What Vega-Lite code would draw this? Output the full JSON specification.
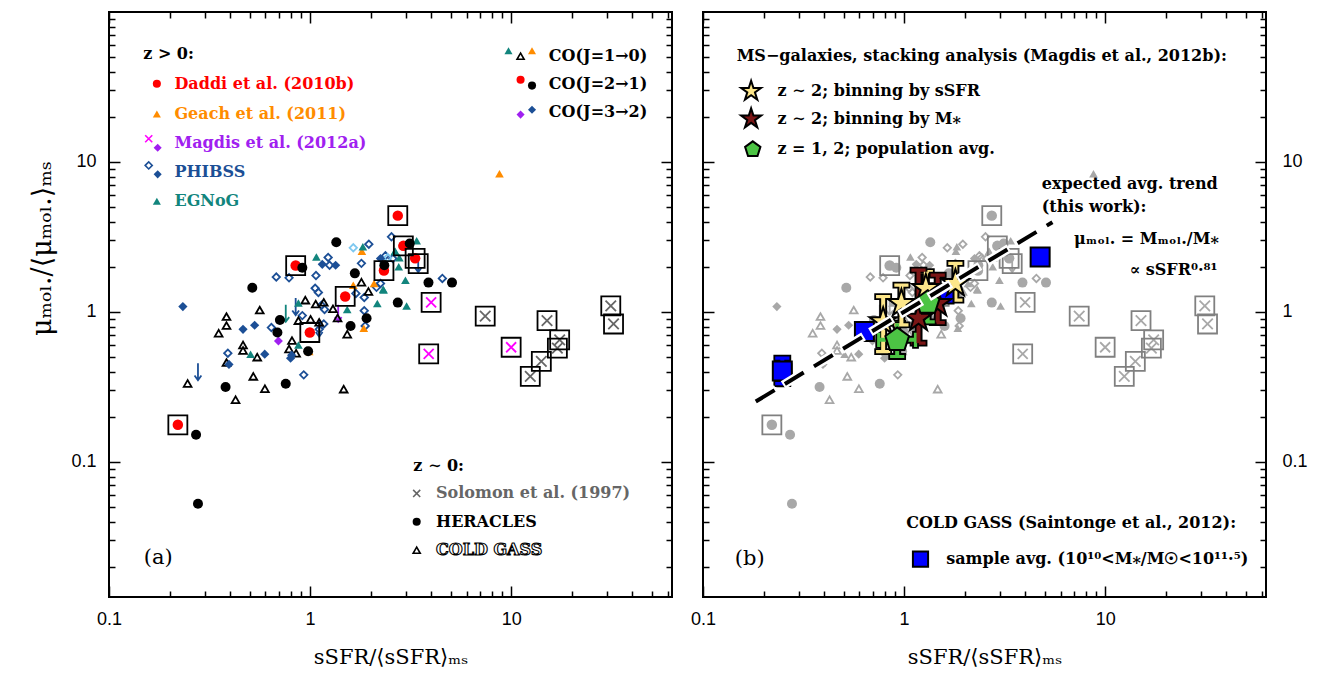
{
"$schema":"https://vega.github.io/schema/vega-lite/v6.json",
"padding":{"left":27,"top":8,"right":5,"bottom":5},
"background":"white",
"config":{"view":{"stroke":"#000","strokeWidth":2},"axis":{"grid":false,"domain":false}},
"datasets":{
"obs":[
{"s":"Daddi","x":0.22,"y":0.177,"b":1},{"s":"Daddi","x":0.848,"y":2.04,"b":1},{"s":"Daddi","x":0.997,"y":0.73,"b":1},{"s":"Daddi","x":1.495,"y":1.27,"b":1},{"s":"Daddi","x":2.33,"y":1.89,"b":1},{"s":"Daddi","x":2.73,"y":4.39,"b":1},{"s":"Daddi","x":2.91,"y":2.76,"b":1},{"s":"Daddi","x":3.33,"y":2.28,"b":1},
{"s":"Geach","x":8.75,"y":8.36},{"s":"Geach","x":1.81,"y":2.54},{"s":"Geach","x":0.99,"y":0.545},{"s":"Geach","x":1.64,"y":1.51},{"s":"Geach","x":1.85,"y":0.78},{"s":"Geach","x":2.08,"y":1.55},
{"s":"MagdisX","x":4.0,"y":1.16,"b":1},{"s":"MagdisX","x":3.89,"y":0.526,"b":1},{"s":"MagdisX","x":10.0,"y":0.582,"b":1},
{"s":"MagdisD","x":0.696,"y":0.641},
{"s":"MagdisL","x":1.38,"y":0.98},
{"s":"PHIBSSo","x":0.679,"y":1.71},{"s":"PHIBSSo","x":0.786,"y":1.69},{"s":"PHIBSSo","x":1.23,"y":2.31},{"s":"PHIBSSo","x":1.25,"y":2.05},{"s":"PHIBSSo","x":1.07,"y":1.75},{"s":"PHIBSSo","x":1.06,"y":1.44},{"s":"PHIBSSo","x":1.10,"y":1.35},{"s":"PHIBSSo","x":1.14,"y":1.11},{"s":"PHIBSSo","x":1.18,"y":1.04},{"s":"PHIBSSo","x":1.17,"y":0.832},{"s":"PHIBSSo","x":1.11,"y":0.767},{"s":"PHIBSSo","x":0.915,"y":0.946},{"s":"PHIBSSo","x":0.642,"y":0.788},{"s":"PHIBSSo","x":0.39,"y":0.531},{"s":"PHIBSSo","x":0.93,"y":0.381},{"s":"PHIBSSo","x":1.80,"y":2.11},{"s":"PHIBSSo","x":1.96,"y":2.83},{"s":"PHIBSSo","x":1.86,"y":1.25},{"s":"PHIBSSo","x":1.86,"y":1.02},{"s":"PHIBSSo","x":1.88,"y":0.807},{"s":"PHIBSSo","x":1.69,"y":1.33},{"s":"PHIBSSo","x":2.14,"y":1.46},{"s":"PHIBSSo","x":2.24,"y":1.55},{"s":"PHIBSSo","x":2.54,"y":3.17},{"s":"PHIBSSo","x":2.37,"y":2.37},{"s":"PHIBSSo","x":2.58,"y":2.27},{"s":"PHIBSSo","x":4.55,"y":1.675},
{"s":"PHIBSSl","x":1.64,"y":2.68},{"s":"PHIBSSl","x":2.43,"y":2.30},
{"s":"PHIBSSf","x":0.233,"y":1.086},{"s":"PHIBSSf","x":0.464,"y":0.767},{"s":"PHIBSSf","x":0.53,"y":0.816},{"s":"PHIBSSf","x":0.395,"y":0.447},{"s":"PHIBSSf","x":0.595,"y":0.523},{"s":"PHIBSSf","x":0.80,"y":0.492},{"s":"PHIBSSf","x":0.81,"y":0.515},{"s":"PHIBSSf","x":1.15,"y":2.08},{"s":"PHIBSSf","x":1.34,"y":2.05},{"s":"PHIBSSf","x":2.24,"y":2.27},
{"s":"PHIBSSL","x":0.277,"y":0.40},{"s":"PHIBSSL","x":0.848,"y":1.086},{"s":"PHIBSSL","x":1.11,"y":0.78},{"s":"PHIBSSL","x":3.45,"y":2.1,"b":1},
{"s":"EGNoG","x":1.075,"y":2.33},{"s":"EGNoG","x":1.83,"y":2.72},{"s":"EGNoG","x":0.506,"y":0.523},{"s":"EGNoG","x":0.875,"y":0.603},{"s":"EGNoG","x":0.875,"y":1.15},{"s":"EGNoG","x":1.53,"y":1.04},{"s":"EGNoG","x":2.16,"y":1.14},{"s":"EGNoG","x":2.31,"y":1.42},{"s":"EGNoG","x":2.65,"y":2.54},{"s":"EGNoG","x":2.76,"y":2.0},{"s":"EGNoG","x":3.39,"y":2.98},{"s":"EGNoG","x":2.64,"y":2.53},{"s":"EGNoG","x":2.78,"y":2.30},{"s":"EGNoG","x":2.98,"y":1.63},{"s":"EGNoG","x":2.32,"y":1.40},{"s":"EGNoG","x":3.02,"y":1.096},
{"s":"EGNoGL","x":0.757,"y":0.98},
{"s":"Solomon","x":7.43,"y":0.94,"b":1},{"s":"Solomon","x":15.08,"y":0.876,"b":1},{"s":"Solomon","x":17.43,"y":0.652,"b":1},{"s":"Solomon","x":16.98,"y":0.574,"b":1},{"s":"Solomon","x":14.13,"y":0.468,"b":1},{"s":"Solomon","x":12.45,"y":0.372,"b":1},{"s":"Solomon","x":31.3,"y":1.10,"b":1},{"s":"Solomon","x":32.3,"y":0.832,"b":1},
{"s":"HERACLES","x":1.35,"y":2.92},{"s":"HERACLES","x":0.915,"y":1.97},{"s":"HERACLES","x":0.516,"y":1.45},{"s":"HERACLES","x":0.708,"y":0.885},{"s":"HERACLES","x":0.688,"y":0.73},{"s":"HERACLES","x":0.38,"y":0.316},{"s":"HERACLES","x":0.757,"y":0.332},{"s":"HERACLES","x":0.271,"y":0.152},{"s":"HERACLES","x":1.67,"y":1.81},{"s":"HERACLES","x":1.59,"y":0.807},{"s":"HERACLES","x":1.91,"y":0.908},{"s":"HERACLES","x":2.73,"y":1.155},{"s":"HERACLES","x":0.978,"y":0.548},{"s":"HERACLES","x":2.34,"y":2.05},{"s":"HERACLES","x":3.13,"y":2.86},{"s":"HERACLES","x":3.88,"y":1.57},{"s":"HERACLES","x":5.08,"y":1.57},{"s":"HERACLES","x":0.277,"y":0.0527},
{"s":"COLDGASS","x":0.384,"y":0.932},{"s":"COLDGASS","x":0.384,"y":0.812},{"s":"COLDGASS","x":0.351,"y":0.722},{"s":"COLDGASS","x":0.562,"y":1.03},{"s":"COLDGASS","x":0.464,"y":0.603},{"s":"COLDGASS","x":0.464,"y":0.554},{"s":"COLDGASS","x":0.546,"y":0.50},{"s":"COLDGASS","x":0.384,"y":0.46},{"s":"COLDGASS","x":0.246,"y":0.334},{"s":"COLDGASS","x":0.426,"y":0.26},{"s":"COLDGASS","x":0.522,"y":0.372},{"s":"COLDGASS","x":0.596,"y":0.308},{"s":"COLDGASS","x":0.813,"y":0.645},{"s":"COLDGASS","x":0.786,"y":0.567},{"s":"COLDGASS","x":0.852,"y":0.531},{"s":"COLDGASS","x":0.947,"y":1.20},{"s":"COLDGASS","x":0.875,"y":0.876},{"s":"COLDGASS","x":1.006,"y":0.894},{"s":"COLDGASS","x":1.11,"y":0.854},{"s":"COLDGASS","x":1.067,"y":1.13},{"s":"COLDGASS","x":1.17,"y":1.16},{"s":"COLDGASS","x":1.30,"y":1.05},{"s":"COLDGASS","x":1.37,"y":0.912},{"s":"COLDGASS","x":1.47,"y":0.306},{"s":"COLDGASS","x":1.53,"y":0.711},{"s":"COLDGASS","x":1.80,"y":1.58},{"s":"COLDGASS","x":1.95,"y":1.37}
],
"lsym":[
{"s":"Daddi","x":0.173,"y":33.2},{"s":"Geach","x":0.173,"y":20.9},{"s":"MagdisX","x":0.1576,"y":14.29},{"s":"MagdisD","x":0.1746,"y":12.45},{"s":"PHIBSSo","x":0.1576,"y":9.49},{"s":"PHIBSSf","x":0.1746,"y":8.27},{"s":"EGNoG","x":0.173,"y":5.47},
{"s":"EGNoG","x":9.70,"y":55.2},{"s":"COLDGASS","x":11.14,"y":50.7},{"s":"Geach","x":12.7,"y":55.2},{"s":"Daddi","x":11.14,"y":35.3},{"s":"HERACLES","x":12.7,"y":32.3},{"s":"MagdisD","x":11.14,"y":20.7},{"s":"PHIBSSf","x":12.7,"y":22.3},
{"s":"Solomon","x":3.39,"y":0.0617},{"s":"HERACLES","x":3.39,"y":0.040},{"s":"COLDGASS","x":3.39,"y":0.0258}
],
"ltxt":[
{"s":"plain","x":0.148,"y":52.5,"t":"z > 0:"},
{"s":"Daddi","x":0.2116,"y":33.2,"t":"Daddi et al. (2010b)"},
{"s":"Geach","x":0.2116,"y":20.9,"t":"Geach et al. (2011)"},
{"s":"Magdis","x":0.2116,"y":13.37,"t":"Magdis et al. (2012a)"},
{"s":"PHIBSS","x":0.2116,"y":8.58,"t":"PHIBSS"},
{"s":"EGNoG","x":0.2116,"y":5.47,"t":"EGNoG"},
{"s":"plain","x":15.4,"y":51.2,"t":"CO(J=1→0)"},
{"s":"plain","x":15.4,"y":33.2,"t":"CO(J=2→1)"},
{"s":"plain","x":15.4,"y":21.5,"t":"CO(J=3→2)"},
{"s":"plain","x":3.26,"y":0.0938,"t":"z ∼ 0:"},
{"s":"Solomon","x":4.23,"y":0.0617,"t":"Solomon et al. (1997)"},
{"s":"plain","x":4.23,"y":0.040,"t":"HERACLES"},
{"s":"outline","x":4.23,"y":0.0258,"t":"COLD GASS"},
{"s":"panel","x":0.1488,"y":0.023,"t":"(a)"}
],
"stk":[
{"s":"Bsq","x":0.248,"y":0.405,"ylo":0.333,"yhi":0.492},
{"s":"Bsq","x":0.635,"y":0.741,"ylo":0.70,"yhi":0.78},
{"s":"Bsq","x":1.58,"y":1.32,"ylo":1.26,"yhi":1.38},
{"s":"Bsq","x":4.75,"y":2.33,"ylo":2.25,"yhi":2.42},
{"s":"Ystar","x":0.787,"y":0.863,"ylo":0.545,"yhi":1.266},
{"s":"Ystar","x":0.97,"y":1.142,"ylo":0.82,"yhi":1.51},
{"s":"Ystar","x":1.283,"y":1.437,"ylo":1.14,"yhi":1.856},
{"s":"Ystar","x":1.80,"y":1.55,"ylo":1.2,"yhi":2.11},
{"s":"Rstar","x":1.18,"y":0.908,"ylo":0.62,"yhi":1.90},
{"s":"Rstar","x":1.47,"y":1.14,"ylo":0.85,"yhi":1.76},
{"s":"Gpent","x":0.924,"y":0.652,"ylo":0.505,"yhi":0.841,"xlo":0.748,"xhi":1.14},
{"s":"Gpent","x":1.31,"y":1.155,"ylo":0.86,"yhi":1.5,"xlo":1.2,"xhi":1.45}
],
"rsym":[
{"s":"Ystar","x":0.1735,"y":29.65},{"s":"Rstar","x":0.1735,"y":19.4},{"s":"Gpent","x":0.1768,"y":12.13},{"s":"Bsq","x":1.207,"y":0.0225}
],
"trend":[{"x":0.183,"y":0.253},{"x":5.47,"y":3.97}],
"rtxt":[
{"s":"plain","x":0.147,"y":51.2,"t":"MS−galaxies, stacking analysis (Magdis et al., 2012b):"},
{"s":"plain","x":0.2346,"y":29.65,"t":"z ∼ 2; binning by sSFR"},
{"s":"plain","x":0.2346,"y":19.4,"t":"z ∼ 2; binning by M⁎"},
{"s":"plain","x":0.2346,"y":12.13,"t":"z = 1, 2; population avg."},
{"s":"plain","x":4.84,"y":7.17,"t":"expected avg. trend"},
{"s":"plain","x":4.84,"y":5.02,"t":"(this work):"},
{"s":"plain","x":7.01,"y":3.09,"t":"μₘₒₗ. = Mₘₒₗ./M⁎"},
{"s":"plain","x":13.2,"y":1.90,"t":"∝ sSFR⁰·⁸¹"},
{"s":"plain","x":1.024,"y":0.0394,"t":"COLD GASS (Saintonge et al., 2012):"},
{"s":"plain","x":1.62,"y":0.0225,"t":"sample avg. (10¹⁰<M⁎/M☉<10¹¹·⁵)"},
{"s":"panel","x":0.144,"y":0.0225,"t":"(b)"}
]
},
"hconcat":[
{
"width":563,"height":585,
"encoding":{
"x":{"field":"x","type":"quantitative","scale":{"type":"log","domain":[0.1,63.0957],"nice":false},"axis":null},
"y":{"field":"y","type":"quantitative","scale":{"type":"log","domain":[0.012589,100],"nice":false},"axis":null}
},
"layer":[
{"data":{"name":"obs"},"transform":[{"filter":{"field":"s","oneOf":["MagdisX","PHIBSSo","PHIBSSl","COLDGASS","Solomon","MagdisL","PHIBSSL","EGNoGL"]}}],
"mark":{"type":"point","filled":false,"strokeWidth":1.8,"opacity":1},
"encoding":{
"x":{"field":"x","type":"quantitative","scale":{"type":"log","domain":[0.1,63.0957],"nice":false},
"axis":{"orient":"bottom","values":[0.1,0.2,0.3,0.4,0.5,0.6,0.7,0.8,0.9,1,2,3,4,5,6,7,8,9,10,20,30,40,50,60],"labelExpr":"datum.value==0.1?'0.1':datum.value==1?'1':datum.value==10?'10':''","tickSize":{"condition":{"test":"datum.value==0.1||datum.value==1||datum.value==10","value":-11},"value":-6},"tickColor":"#000","tickWidth":1.5,"labelPadding":24,"labelFont":"Liberation Sans","labelFontSize":18,"labelColor":"#000","labelFlush":false,"labelOverlap":false,"title":"sSFR/⟨sSFR⟩ₘₛ","titleFont":"DejaVu Serif","titleFontSize":21,"titleFontWeight":"normal","titleColor":"#000","titlePadding":13}},
"y":{"field":"y","type":"quantitative","scale":{"type":"log","domain":[0.012589,100],"nice":false},
"axis":{"orient":"left","values":[0.02,0.03,0.04,0.05,0.06,0.07,0.08,0.09,0.1,0.2,0.3,0.4,0.5,0.6,0.7,0.8,0.9,1,2,3,4,5,6,7,8,9,10,20,30,40,50,60,70,80,90],"labelExpr":"datum.value==0.1?'0.1':datum.value==1?'1':datum.value==10?'10':''","tickSize":{"condition":{"test":"datum.value==0.1||datum.value==1||datum.value==10","value":-11},"value":-6},"tickColor":"#000","tickWidth":1.5,"labelPadding":24,"labelFont":"Liberation Sans","labelFontSize":18,"labelColor":"#000","labelFlush":false,"labelOverlap":false,"title":"μₘₒₗ./⟨μₘₒₗ.⟩ₘₛ","titleFont":"DejaVu Serif","titleFontSize":27,"titleFontWeight":"normal","titleColor":"#000","titlePadding":14,"titleY":236}},
"shape":{"field":"s","type":"nominal","legend":null,"scale":{"domain":["Daddi","Geach","MagdisX","MagdisD","MagdisL","PHIBSSo","PHIBSSl","PHIBSSf","PHIBSSL","EGNoG","EGNoGL","Solomon","HERACLES","COLDGASS"],"range":["circle","triangle-up","M-1,-1L1,1M-1,1L1,-1","diamond","M0,-1L0,1M-0.4,0.45L0,1L0.4,0.45","diamond","diamond","diamond","M0,-1L0,1M-0.4,0.45L0,1L0.4,0.45","triangle-up","M0,-1L0,1M-0.4,0.45L0,1L0.4,0.45","M-1,-1L1,1M-1,1L1,-1","circle","triangle-up"]}},
"color":{"field":"s","type":"nominal","legend":null,"scale":{"domain":["Daddi","Geach","MagdisX","MagdisD","MagdisL","PHIBSSo","PHIBSSl","PHIBSSf","PHIBSSL","EGNoG","EGNoGL","Solomon","HERACLES","COLDGASS","Magdis","PHIBSS","plain"],"range":["#ff0000","#ff8c00","#ff00ff","#a020f0","#a020f0","#1c4f96","#7ec8f0","#1c4f96","#1c4f96","#12857d","#12857d","#666666","#000000","#000000","#a020f0","#1c4f96","#000000"]}},
"size":{"field":"s","type":"nominal","legend":null,"scale":{"type":"ordinal","domain":["Daddi","Geach","MagdisX","MagdisD","MagdisL","PHIBSSo","PHIBSSl","PHIBSSf","PHIBSSL","EGNoG","EGNoGL","Solomon","HERACLES","COLDGASS"],"range":[110,75,100,80,290,55,55,85,290,75,290,110,100,60]}}
}},
{"data":{"name":"obs"},"transform":[{"filter":{"field":"s","oneOf":["Daddi","Geach","MagdisD","PHIBSSf","EGNoG","HERACLES"]}}],
"mark":{"type":"point","filled":true,"opacity":1},
"encoding":{
"x":{"field":"x","type":"quantitative","scale":{"type":"log","domain":[0.1,63.0957],"nice":false},
"axis":{"orient":"top","values":[0.1,0.2,0.3,0.4,0.5,0.6,0.7,0.8,0.9,1,2,3,4,5,6,7,8,9,10,20,30,40,50,60],"labels":false,"title":null,"tickSize":{"condition":{"test":"datum.value==0.1||datum.value==1||datum.value==10","value":-11},"value":-6},"tickColor":"#000","tickWidth":1.5}},
"y":{"field":"y","type":"quantitative","scale":{"type":"log","domain":[0.012589,100],"nice":false},
"axis":{"orient":"right","values":[0.02,0.03,0.04,0.05,0.06,0.07,0.08,0.09,0.1,0.2,0.3,0.4,0.5,0.6,0.7,0.8,0.9,1,2,3,4,5,6,7,8,9,10,20,30,40,50,60,70,80,90],"labels":false,"title":null,"tickSize":{"condition":{"test":"datum.value==0.1||datum.value==1||datum.value==10","value":-11},"value":-6},"tickColor":"#000","tickWidth":1.5}},
"shape":{"field":"s","type":"nominal","legend":null,"scale":{"domain":["Daddi","Geach","MagdisX","MagdisD","MagdisL","PHIBSSo","PHIBSSl","PHIBSSf","PHIBSSL","EGNoG","EGNoGL","Solomon","HERACLES","COLDGASS"],"range":["circle","triangle-up","M-1,-1L1,1M-1,1L1,-1","diamond","M0,-1L0,1M-0.4,0.45L0,1L0.4,0.45","diamond","diamond","diamond","M0,-1L0,1M-0.4,0.45L0,1L0.4,0.45","triangle-up","M0,-1L0,1M-0.4,0.45L0,1L0.4,0.45","M-1,-1L1,1M-1,1L1,-1","circle","triangle-up"]}},
"color":{"field":"s","type":"nominal","legend":null,"scale":{"domain":["Daddi","Geach","MagdisX","MagdisD","MagdisL","PHIBSSo","PHIBSSl","PHIBSSf","PHIBSSL","EGNoG","EGNoGL","Solomon","HERACLES","COLDGASS","Magdis","PHIBSS","plain"],"range":["#ff0000","#ff8c00","#ff00ff","#a020f0","#a020f0","#1c4f96","#7ec8f0","#1c4f96","#1c4f96","#12857d","#12857d","#666666","#000000","#000000","#a020f0","#1c4f96","#000000"]}},
"size":{"field":"s","type":"nominal","legend":null,"scale":{"type":"ordinal","domain":["Daddi","Geach","MagdisX","MagdisD","MagdisL","PHIBSSo","PHIBSSl","PHIBSSf","PHIBSSL","EGNoG","EGNoGL","Solomon","HERACLES","COLDGASS"],"range":[110,75,100,80,290,55,55,85,290,75,290,110,100,60]}}
}},
{"data":{"name":"obs"},"transform":[{"filter":"datum.b==1"}],
"mark":{"type":"point","shape":"square","filled":false,"color":"#000","size":361,"strokeWidth":1.8,"opacity":1}},
{"data":{"name":"lsym"},"transform":[{"filter":{"field":"s","oneOf":["MagdisX","PHIBSSo","COLDGASS","Solomon"]}}],
"mark":{"type":"point","filled":false,"strokeWidth":1.6,"opacity":1,"size":50},
"encoding":{
"shape":{"field":"s","type":"nominal","legend":null,"scale":{"domain":["Daddi","Geach","MagdisX","MagdisD","MagdisL","PHIBSSo","PHIBSSl","PHIBSSf","PHIBSSL","EGNoG","EGNoGL","Solomon","HERACLES","COLDGASS"],"range":["circle","triangle-up","M-1,-1L1,1M-1,1L1,-1","diamond","M0,-1L0,1M-0.4,0.45L0,1L0.4,0.45","diamond","diamond","diamond","M0,-1L0,1M-0.4,0.45L0,1L0.4,0.45","triangle-up","M0,-1L0,1M-0.4,0.45L0,1L0.4,0.45","M-1,-1L1,1M-1,1L1,-1","circle","triangle-up"]}},
"color":{"field":"s","type":"nominal","legend":null,"scale":{"domain":["Daddi","Geach","MagdisX","MagdisD","MagdisL","PHIBSSo","PHIBSSl","PHIBSSf","PHIBSSL","EGNoG","EGNoGL","Solomon","HERACLES","COLDGASS","Magdis","PHIBSS","plain"],"range":["#ff0000","#ff8c00","#ff00ff","#a020f0","#a020f0","#1c4f96","#7ec8f0","#1c4f96","#1c4f96","#12857d","#12857d","#666666","#000000","#000000","#a020f0","#1c4f96","#000000"]}}
}},
{"data":{"name":"lsym"},"transform":[{"filter":{"field":"s","oneOf":["Daddi","Geach","MagdisD","PHIBSSf","EGNoG","HERACLES"]}}],
"mark":{"type":"point","filled":true,"opacity":1,"size":65},
"encoding":{
"shape":{"field":"s","type":"nominal","legend":null,"scale":{"domain":["Daddi","Geach","MagdisX","MagdisD","MagdisL","PHIBSSo","PHIBSSl","PHIBSSf","PHIBSSL","EGNoG","EGNoGL","Solomon","HERACLES","COLDGASS"],"range":["circle","triangle-up","M-1,-1L1,1M-1,1L1,-1","diamond","M0,-1L0,1M-0.4,0.45L0,1L0.4,0.45","diamond","diamond","diamond","M0,-1L0,1M-0.4,0.45L0,1L0.4,0.45","triangle-up","M0,-1L0,1M-0.4,0.45L0,1L0.4,0.45","M-1,-1L1,1M-1,1L1,-1","circle","triangle-up"]}},
"color":{"field":"s","type":"nominal","legend":null,"scale":{"domain":["Daddi","Geach","MagdisX","MagdisD","MagdisL","PHIBSSo","PHIBSSl","PHIBSSf","PHIBSSL","EGNoG","EGNoGL","Solomon","HERACLES","COLDGASS","Magdis","PHIBSS","plain"],"range":["#ff0000","#ff8c00","#ff00ff","#a020f0","#a020f0","#1c4f96","#7ec8f0","#1c4f96","#1c4f96","#12857d","#12857d","#666666","#000000","#000000","#a020f0","#1c4f96","#000000"]}}
}},
{"data":{"name":"ltxt"},"transform":[{"filter":"datum.s!='outline'&&datum.s!='panel'"}],
"mark":{"type":"text","align":"left","baseline":"middle","font":"DejaVu Serif","fontWeight":"bold","fontSize":16},
"encoding":{"text":{"field":"t"},
"color":{"field":"s","type":"nominal","legend":null,"scale":{"domain":["Daddi","Geach","MagdisX","MagdisD","MagdisL","PHIBSSo","PHIBSSl","PHIBSSf","PHIBSSL","EGNoG","EGNoGL","Solomon","HERACLES","COLDGASS","Magdis","PHIBSS","plain"],"range":["#ff0000","#ff8c00","#ff00ff","#a020f0","#a020f0","#1c4f96","#7ec8f0","#1c4f96","#1c4f96","#12857d","#12857d","#666666","#000000","#000000","#a020f0","#1c4f96","#000000"]}}}},
{"data":{"name":"ltxt"},"transform":[{"filter":"datum.s=='outline'"}],
"mark":{"type":"text","align":"left","baseline":"middle","font":"DejaVu Serif","fontWeight":"bold","fontSize":16,"fill":"#fff","stroke":"#000","strokeWidth":1.1},
"encoding":{"text":{"field":"t"}}},
{"data":{"name":"ltxt"},"transform":[{"filter":"datum.s=='panel'"}],
"mark":{"type":"text","align":"left","baseline":"middle","font":"DejaVu Serif","fontSize":21,"fill":"#000"},
"encoding":{"text":{"field":"t"}}}
],
"resolve":{"axis":{"x":"independent","y":"independent"},"scale":{"size":"independent"}}
},
{
"width":563,"height":585,
"encoding":{
"x":{"field":"x","type":"quantitative","scale":{"type":"log","domain":[0.1,63.0957],"nice":false},"axis":null},
"y":{"field":"y","type":"quantitative","scale":{"type":"log","domain":[0.012589,100],"nice":false},"axis":null}
},
"layer":[
{"data":{"name":"obs"},"transform":[{"filter":{"field":"s","oneOf":["MagdisX","PHIBSSo","PHIBSSl","COLDGASS","Solomon","MagdisL","PHIBSSL","EGNoGL"]}}],
"mark":{"type":"point","filled":false,"strokeWidth":1.8,"opacity":1,"color":"#a8a8a8"},
"encoding":{
"x":{"field":"x","type":"quantitative","scale":{"type":"log","domain":[0.1,63.0957],"nice":false},
"axis":{"orient":"bottom","values":[0.1,0.2,0.3,0.4,0.5,0.6,0.7,0.8,0.9,1,2,3,4,5,6,7,8,9,10,20,30,40,50,60],"labelExpr":"datum.value==0.1?'0.1':datum.value==1?'1':datum.value==10?'10':''","tickSize":{"condition":{"test":"datum.value==0.1||datum.value==1||datum.value==10","value":-11},"value":-6},"tickColor":"#000","tickWidth":1.5,"labelPadding":24,"labelFont":"Liberation Sans","labelFontSize":18,"labelColor":"#000","labelFlush":false,"labelOverlap":false,"title":"sSFR/⟨sSFR⟩ₘₛ","titleFont":"DejaVu Serif","titleFontSize":21,"titleFontWeight":"normal","titleColor":"#000","titlePadding":13}},
"y":{"field":"y","type":"quantitative","scale":{"type":"log","domain":[0.012589,100],"nice":false},
"axis":{"orient":"right","values":[0.02,0.03,0.04,0.05,0.06,0.07,0.08,0.09,0.1,0.2,0.3,0.4,0.5,0.6,0.7,0.8,0.9,1,2,3,4,5,6,7,8,9,10,20,30,40,50,60,70,80,90],"labelExpr":"datum.value==0.1?'0.1':datum.value==1?'1':datum.value==10?'10':''","tickSize":{"condition":{"test":"datum.value==0.1||datum.value==1||datum.value==10","value":-11},"value":-6},"tickColor":"#000","tickWidth":1.5,"labelPadding":27,"labelFont":"Liberation Sans","labelFontSize":18,"labelColor":"#000","labelFlush":false,"labelOverlap":false,"title":null}},
"shape":{"field":"s","type":"nominal","legend":null,"scale":{"domain":["Daddi","Geach","MagdisX","MagdisD","MagdisL","PHIBSSo","PHIBSSl","PHIBSSf","PHIBSSL","EGNoG","EGNoGL","Solomon","HERACLES","COLDGASS"],"range":["circle","triangle-up","M-1,-1L1,1M-1,1L1,-1","diamond","M0,-1L0,1M-0.4,0.45L0,1L0.4,0.45","diamond","diamond","diamond","M0,-1L0,1M-0.4,0.45L0,1L0.4,0.45","triangle-up","M0,-1L0,1M-0.4,0.45L0,1L0.4,0.45","M-1,-1L1,1M-1,1L1,-1","circle","triangle-up"]}},
"size":{"field":"s","type":"nominal","legend":null,"scale":{"type":"ordinal","domain":["Daddi","Geach","MagdisX","MagdisD","MagdisL","PHIBSSo","PHIBSSl","PHIBSSf","PHIBSSL","EGNoG","EGNoGL","Solomon","HERACLES","COLDGASS"],"range":[110,75,100,80,290,55,55,85,290,75,290,110,100,60]}}
}},
{"data":{"name":"obs"},"transform":[{"filter":{"field":"s","oneOf":["Daddi","Geach","MagdisD","PHIBSSf","EGNoG","HERACLES"]}}],
"mark":{"type":"point","filled":true,"opacity":1,"color":"#a8a8a8"},
"encoding":{
"x":{"field":"x","type":"quantitative","scale":{"type":"log","domain":[0.1,63.0957],"nice":false},
"axis":{"orient":"top","values":[0.1,0.2,0.3,0.4,0.5,0.6,0.7,0.8,0.9,1,2,3,4,5,6,7,8,9,10,20,30,40,50,60],"labels":false,"title":null,"tickSize":{"condition":{"test":"datum.value==0.1||datum.value==1||datum.value==10","value":-11},"value":-6},"tickColor":"#000","tickWidth":1.5}},
"y":{"field":"y","type":"quantitative","scale":{"type":"log","domain":[0.012589,100],"nice":false},
"axis":{"orient":"left","values":[0.02,0.03,0.04,0.05,0.06,0.07,0.08,0.09,0.1,0.2,0.3,0.4,0.5,0.6,0.7,0.8,0.9,1,2,3,4,5,6,7,8,9,10,20,30,40,50,60,70,80,90],"labels":false,"title":null,"tickSize":{"condition":{"test":"datum.value==0.1||datum.value==1||datum.value==10","value":-11},"value":-6},"tickColor":"#000","tickWidth":1.5}},
"shape":{"field":"s","type":"nominal","legend":null,"scale":{"domain":["Daddi","Geach","MagdisX","MagdisD","MagdisL","PHIBSSo","PHIBSSl","PHIBSSf","PHIBSSL","EGNoG","EGNoGL","Solomon","HERACLES","COLDGASS"],"range":["circle","triangle-up","M-1,-1L1,1M-1,1L1,-1","diamond","M0,-1L0,1M-0.4,0.45L0,1L0.4,0.45","diamond","diamond","diamond","M0,-1L0,1M-0.4,0.45L0,1L0.4,0.45","triangle-up","M0,-1L0,1M-0.4,0.45L0,1L0.4,0.45","M-1,-1L1,1M-1,1L1,-1","circle","triangle-up"]}},
"size":{"field":"s","type":"nominal","legend":null,"scale":{"type":"ordinal","domain":["Daddi","Geach","MagdisX","MagdisD","MagdisL","PHIBSSo","PHIBSSl","PHIBSSf","PHIBSSL","EGNoG","EGNoGL","Solomon","HERACLES","COLDGASS"],"range":[110,75,100,80,290,55,55,85,290,75,290,110,100,60]}}
}},
{"data":{"name":"obs"},"transform":[{"filter":"datum.b==1"}],
"mark":{"type":"point","shape":"square","filled":false,"color":"#808080","size":361,"strokeWidth":1.8,"opacity":1}},
{"data":{"name":"stk"},"transform":[{"filter":"isValid(datum.ylo)"}],
"mark":{"type":"rule","color":"#000","strokeWidth":8},
"encoding":{"y":{"field":"ylo","type":"quantitative","scale":{"type":"log","domain":[0.012589,100],"nice":false},"axis":null},"y2":{"field":"yhi"}}},
{"data":{"name":"stk"},"transform":[{"filter":"isValid(datum.xlo)"}],
"mark":{"type":"rule","color":"#000","strokeWidth":8},
"encoding":{"x":{"field":"xlo","type":"quantitative","scale":{"type":"log","domain":[0.1,63.0957],"nice":false},"axis":null},"x2":{"field":"xhi"}}},
{"data":{"name":"stk"},"transform":[{"filter":"isValid(datum.ylo)"}],
"mark":{"type":"tick","orient":"horizontal","size":16,"thickness":5,"stroke":"#000","strokeWidth":1.8,"opacity":1},
"encoding":{"y":{"field":"yhi","type":"quantitative","scale":{"type":"log","domain":[0.012589,100],"nice":false},"axis":null},
"color":{"field":"s","type":"nominal","legend":null,"scale":{"domain":["Ystar","Rstar","Gpent","Bsq"],"range":["#fde68a","#7b1616","#4cc444","#0000ff"]}}}},
{"data":{"name":"stk"},"transform":[{"filter":"isValid(datum.ylo)"}],
"mark":{"type":"tick","orient":"horizontal","size":16,"thickness":5,"stroke":"#000","strokeWidth":1.8,"opacity":1},
"encoding":{"y":{"field":"ylo","type":"quantitative","scale":{"type":"log","domain":[0.012589,100],"nice":false},"axis":null},
"color":{"field":"s","type":"nominal","legend":null,"scale":{"domain":["Ystar","Rstar","Gpent","Bsq"],"range":["#fde68a","#7b1616","#4cc444","#0000ff"]}}}},
{"data":{"name":"stk"},"transform":[{"filter":"isValid(datum.xlo)"}],
"mark":{"type":"tick","orient":"vertical","size":16,"thickness":5,"stroke":"#000","strokeWidth":1.8,"opacity":1},
"encoding":{"x":{"field":"xlo","type":"quantitative","scale":{"type":"log","domain":[0.1,63.0957],"nice":false},"axis":null},
"color":{"field":"s","type":"nominal","legend":null,"scale":{"domain":["Ystar","Rstar","Gpent","Bsq"],"range":["#fde68a","#7b1616","#4cc444","#0000ff"]}}}},
{"data":{"name":"stk"},"transform":[{"filter":"isValid(datum.xlo)"}],
"mark":{"type":"tick","orient":"vertical","size":16,"thickness":5,"stroke":"#000","strokeWidth":1.8,"opacity":1},
"encoding":{"x":{"field":"xhi","type":"quantitative","scale":{"type":"log","domain":[0.1,63.0957],"nice":false},"axis":null},
"color":{"field":"s","type":"nominal","legend":null,"scale":{"domain":["Ystar","Rstar","Gpent","Bsq"],"range":["#fde68a","#7b1616","#4cc444","#0000ff"]}}}},
{"data":{"name":"stk"},"transform":[{"filter":"isValid(datum.ylo)"}],
"mark":{"type":"rule","strokeWidth":4},
"encoding":{"y":{"field":"ylo","type":"quantitative","scale":{"type":"log","domain":[0.012589,100],"nice":false},"axis":null},"y2":{"field":"yhi"},
"color":{"field":"s","type":"nominal","legend":null,"scale":{"domain":["Ystar","Rstar","Gpent","Bsq"],"range":["#fde68a","#7b1616","#4cc444","#0000ff"]}}}},
{"data":{"name":"stk"},"transform":[{"filter":"isValid(datum.xlo)"}],
"mark":{"type":"rule","strokeWidth":4},
"encoding":{"x":{"field":"xlo","type":"quantitative","scale":{"type":"log","domain":[0.1,63.0957],"nice":false},"axis":null},"x2":{"field":"xhi"},
"color":{"field":"s","type":"nominal","legend":null,"scale":{"domain":["Ystar","Rstar","Gpent","Bsq"],"range":["#fde68a","#7b1616","#4cc444","#0000ff"]}}}},
{"data":{"name":"stk"},
"mark":{"type":"point","filled":true,"stroke":"#000","strokeWidth":2,"opacity":1},
"encoding":{
"shape":{"field":"s","type":"nominal","legend":null,"scale":{"domain":["Ystar","Rstar","Gpent","Bsq"],"range":["M0,-1L0.2245,-0.309L0.951,-0.309L0.363,0.118L0.588,0.809L0,0.382L-0.588,0.809L-0.363,0.118L-0.951,-0.309L-0.2245,-0.309Z","M0,-1L0.2245,-0.309L0.951,-0.309L0.363,0.118L0.588,0.809L0,0.382L-0.588,0.809L-0.363,0.118L-0.951,-0.309L-0.2245,-0.309Z","M0,-1L0.951,-0.309L0.588,0.809L-0.588,0.809L-0.951,-0.309Z","square"]}},
"color":{"field":"s","type":"nominal","legend":null,"scale":{"domain":["Ystar","Rstar","Gpent","Bsq"],"range":["#fde68a","#7b1616","#4cc444","#0000ff"]}},
"size":{"field":"s","type":"nominal","legend":null,"scale":{"type":"ordinal","domain":["Ystar","Rstar","Gpent","Bsq"],"range":[820,820,620,361]}}
}},
{"data":{"name":"trend"},"mark":{"type":"line","color":"#fff","strokeWidth":9,"strokeDash":[26,8],"strokeDashOffset":2},"encoding":{}},
{"data":{"name":"trend"},"mark":{"type":"line","color":"#000","strokeWidth":4,"strokeDash":[22,12]},"encoding":{}},
{"data":{"name":"rsym"},
"mark":{"type":"point","filled":true,"stroke":"#000","strokeWidth":2,"opacity":1},
"encoding":{
"shape":{"field":"s","type":"nominal","legend":null,"scale":{"domain":["Ystar","Rstar","Gpent","Bsq"],"range":["M0,-1L0.2245,-0.309L0.951,-0.309L0.363,0.118L0.588,0.809L0,0.382L-0.588,0.809L-0.363,0.118L-0.951,-0.309L-0.2245,-0.309Z","M0,-1L0.2245,-0.309L0.951,-0.309L0.363,0.118L0.588,0.809L0,0.382L-0.588,0.809L-0.363,0.118L-0.951,-0.309L-0.2245,-0.309Z","M0,-1L0.951,-0.309L0.588,0.809L-0.588,0.809L-0.951,-0.309Z","square"]}},
"color":{"field":"s","type":"nominal","legend":null,"scale":{"domain":["Ystar","Rstar","Gpent","Bsq"],"range":["#fde68a","#7b1616","#4cc444","#0000ff"]}},
"size":{"field":"s","type":"nominal","legend":null,"scale":{"type":"ordinal","domain":["Ystar","Rstar","Gpent","Bsq"],"range":[440,440,260,230]}}
}},
{"data":{"name":"rtxt"},"transform":[{"filter":"datum.s!='panel'"}],
"mark":{"type":"text","align":"left","baseline":"middle","font":"DejaVu Serif","fontWeight":"bold","fontSize":16,"fill":"#000"},
"encoding":{"text":{"field":"t"}}},
{"data":{"name":"rtxt"},"transform":[{"filter":"datum.s=='panel'"}],
"mark":{"type":"text","align":"left","baseline":"middle","font":"DejaVu Serif","fontSize":21,"fill":"#000"},
"encoding":{"text":{"field":"t"}}}
],
"resolve":{"axis":{"x":"independent","y":"independent"},"scale":{"size":"independent","shape":"independent"}}
}
],
"spacing":31,
"bounds":"flush",
"resolve":{"scale":{"x":"independent","y":"independent","color":"independent","shape":"independent","size":"independent"}}
}
